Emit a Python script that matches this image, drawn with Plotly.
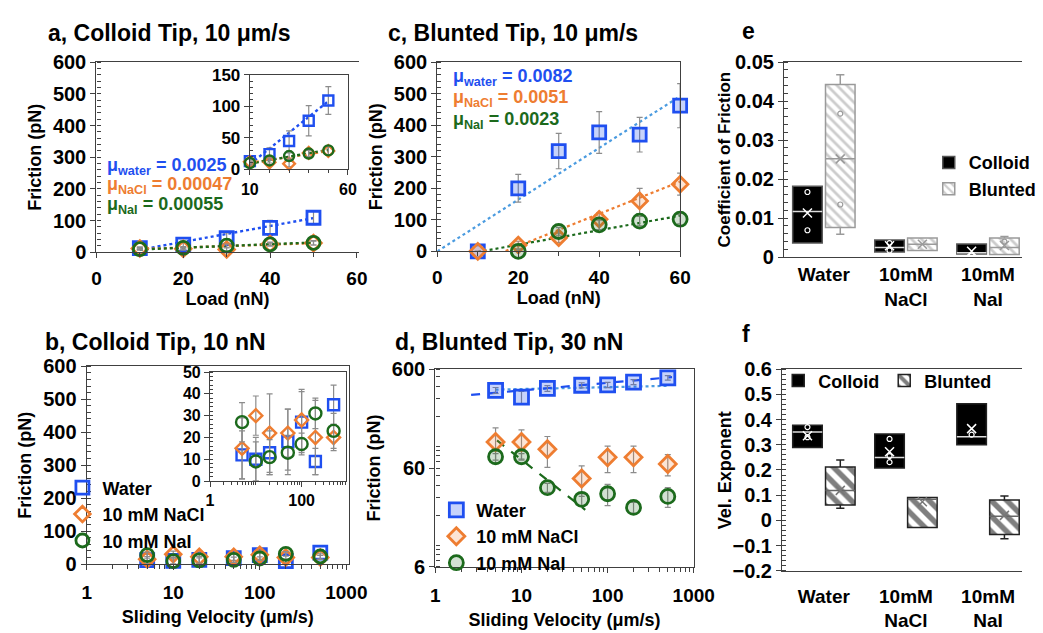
import plotly.graph_objects as go

# ---------------- data ----------------
# Panel a: colloid tip, 10 um/s, friction vs load
a_load = [10, 20, 30, 40, 50]
a_water = [13, 24, 45, 77, 109]
a_water_err = [4, 10, 16, 24, 22]
a_nacl = [12, 11, 9, 26, 29]
a_nacl_err = [3, 4, 5, 6, 6]
a_nai = [10, 14, 21, 25, 30]
a_nai_err = [3, 4, 5, 5, 7]
a_mu = [0.0025, 0.00047, 0.00055]
a_icpt = [-17, 5.5, 3.5]
a_fit_x = [10, 50]

# Panel c: blunted tip, 10 um/s
c_load = [10, 20, 30, 40, 50, 60]
c_water = [0, 200, 318, 377, 370, 462]
c_water_err = [0, 44, 56, 66, 55, 70]
c_nacl = [0, 20, 43, 102, 160, 213]
c_nacl_err = [0, 12, 15, 20, 40, 35]
c_nai = [None, 0, 63, 84, 96, 102]
c_nai_err = [0, 5, 12, 15, 15, 15]
c_mu = [0.0082, 0.0051, 0.0023]
c_icpt = [0, -85, -25]
c_fit_x = [[0, 60], [10, 60], [10, 60]]

# Panel b: colloid tip, 10 nN, friction vs velocity
v = [5, 10, 20, 50, 100, 200, 500]
b_water = [12, 10, 13, 18, 27, 9, 35]
b_water_err = [11, 10, 10, 15, 14, 6, 9]
b_nacl = [15, 30, 22, 22, 28, 20, 20]
b_nacl_err = [14, 9, 18, 11, 14, 17, 6]
b_nai = [27, 9, 11, 13, 17, 31, 23]
b_nai_err = [9, 9, 8, 8, 5, 7, 8]

# Panel d: blunted tip, 30 nN
d_water = [366, 313, 383, 412, 415, 444, 490]
d_water_err = [25, 45, 25, 25, 25, 25, 25]
d_nacl = [110, 110, 93, 47, 77, 77, 66]
d_nacl_err = [43, 36, 32, 16, 23, 23, 16]
d_nai = [78, 78, 38, 29, 33, 24, 31]
d_nai_err = [6, 6, 4, 4, 8, 3, 7]
# power-law fits F = A * v^n  (A, n, v_start, v_end)
d_fit_water_dash = [305.6, 0.0771, 2.6, 560]
d_fit_water_dot = [361, 0.019, 5, 500]
d_fit_nai_dash = [352, -0.684, 5.2, 55]

# Panels e, f: box statistics
cats = ["Water", "10mM<br>NaCl", "10mM<br>NaI"]
e_col = dict(q1=[0.0036, 0.0013, 0.0008], med=[0.0117, 0.0025, 0.0011],
             q3=[0.0182, 0.0044, 0.0034], lo=[0.0036, 0.0013, 0.0008],
             hi=[0.0182, 0.0044, 0.0034], mean=[0.0113, 0.0029, 0.0015],
             pts=[[0.0167, 0.0069], [0.0036, 0.0017], [0.0004]])
e_blu = dict(q1=[0.0076, 0.0017, 0.0007], med=[0.0252, 0.0033, 0.0025],
             q3=[0.0443, 0.0049, 0.0049], lo=[0.0059, 0.0017, 0.0007],
             hi=[0.0468, 0.0049, 0.0053], mean=[0.0252, 0.0033, 0.0030],
             pts=[[0.0368, 0.0135], [], [0.0040]])
f_col = dict(q1=[0.289, 0.208, 0.300], med=[0.351, 0.249, 0.332],
             q3=[0.377, 0.343, 0.463], lo=[0.289, 0.208, 0.300],
             hi=[0.377, 0.343, 0.463], mean=[0.336, 0.272, 0.364],
             pts=[[0.37, 0.33], [0.323, 0.255, 0.231], [0.34]])
f_blu = dict(q1=[0.061, -0.028, -0.056], med=[0.119, 0.084, 0.017],
             q3=[0.212, 0.091, 0.081], lo=[0.048, -0.028, -0.073],
             hi=[0.240, 0.091, 0.097], mean=[0.119, 0.074, 0.020],
             pts=[[], [], []])

# ---------------- style ----------------
W, H = 1043, 633
FONT = "Liberation Sans, Arial, sans-serif"
BLUE = "#1f4ff0"
LBLUE = "#4a9be0"
ORANGE = "#ee7d31"
GREEN = "#1c6a1c"
ERR = "#8c8c8c"
AX = "#404040"
F_BLUE = "rgba(31,79,240,0.25)"
F_ORANGE = "rgba(238,125,49,0.2)"
F_GREEN = "rgba(28,106,28,0.2)"
OFF = 0.2
BOXW = 0.36
CAP = 0.05


def xd(a, b):
    return [a / W, b / W]


def yd(top, bottom):
    return [1 - bottom / H, 1 - top / H]


fig = go.Figure()


def series(x, y, err, xa, ya, color, symbol, fill, size, lw, name,
           legend=None, show=False):
    fig.add_trace(go.Scatter(
        x=x, y=y, mode="markers", name=name, xaxis=xa, yaxis=ya,
        cliponaxis=False, showlegend=show, legend=legend,
        error_y=dict(type="data", array=err, color=ERR, thickness=1.2, width=3),
        marker=dict(symbol=symbol, size=size, color=fill,
                    line=dict(color=color, width=lw))))


def line(x, y, xa, ya, color, dash, width=2.2):
    fig.add_trace(go.Scatter(x=x, y=y, mode="lines", xaxis=xa, yaxis=ya,
                             showlegend=False, hoverinfo="skip",
                             line=dict(color=color, dash=dash, width=width)))


CLEAR = "rgba(0,0,0,0)"
# ---- panel a (main + inset)
for (xa, ya, sz, lw) in [("x", "y", 13, 2.8), ("x2", "y2", 10, 2.4)]:
    cols = [BLUE, ORANGE, GREEN]
    for k, col in enumerate(cols):
        fx = a_fit_x
        line(fx, [a_mu[k] * 1000 * t + a_icpt[k] for t in fx], xa, ya, col, "dot", 2.4)
    series(a_load, a_water, a_water_err, xa, ya, BLUE, "square", CLEAR, sz, lw, "Water")
    series(a_load, a_nacl, a_nacl_err, xa, ya, ORANGE, "diamond", CLEAR, sz - 1, lw, "NaCl")
    series(a_load, a_nai, a_nai_err, xa, ya, GREEN, "circle", CLEAR, sz, lw, "NaI")

# ---- panel c
for k, col in enumerate([LBLUE, ORANGE, GREEN]):
    fx = c_fit_x[k]
    line(fx, [c_mu[k] * 1000 * t + c_icpt[k] for t in fx], "x3", "y3", col, "dot", 2.2)
series(c_load, c_water, c_water_err, "x3", "y3", BLUE, "square", F_BLUE, 13, 2.8, "Water")
series(c_load, c_nacl, c_nacl_err, "x3", "y3", ORANGE, "diamond", F_ORANGE, 12, 2.8, "NaCl")
series(c_load, c_nai, c_nai_err, "x3", "y3", GREEN, "circle", F_GREEN, 14, 2.8, "NaI")

# ---- panel b (main + inset)
series(v, b_water, b_water_err, "x5", "y5", BLUE, "square", CLEAR, 13, 2.8,
       "Water", "legend", True)
series(v, b_nacl, b_nacl_err, "x5", "y5", ORANGE, "diamond", CLEAR, 12, 2.8,
       "10 mM NaCl", "legend", True)
series(v, b_nai, b_nai_err, "x5", "y5", GREEN, "circle", CLEAR, 13, 2.8,
       "10 mM NaI", "legend", True)
series(v, b_water, b_water_err, "x6", "y6", BLUE, "square", CLEAR, 11, 2.4, "Water")
series(v, b_nacl, b_nacl_err, "x6", "y6", ORANGE, "diamond", CLEAR, 10, 2.4, "NaCl")
series(v, b_nai, b_nai_err, "x6", "y6", GREEN, "circle", CLEAR, 12, 2.4, "NaI")

# ---- panel d
for (A, n, v0, v1), col, dash in [(d_fit_water_dot, LBLUE, "dot"),
                                  (d_fit_water_dash, BLUE, "dash"),
                                  (d_fit_nai_dash, GREEN, "dash")]:
    line([v0, v1], [A * v0 ** n, A * v1 ** n], "x7", "y7", col, dash, 2.2)
series(v, d_water, d_water_err, "x7", "y7", BLUE, "square", F_BLUE, 14, 2.8,
       "Water", "legend2", True)
series(v, d_nacl, d_nacl_err, "x7", "y7", ORANGE, "diamond", F_ORANGE, 13, 2.8,
       "10 mM NaCl", "legend2", True)
series(v, d_nai, d_nai_err, "x7", "y7", GREEN, "circle", F_GREEN, 14, 2.8,
       "10 mM NaI", "legend2", True)


# ---- panels e, f boxes
def boxes(st, off, xa, ya, fill, pattern, edge, medc, mkc, whc, name, legend):
    xs = [i + off for i in range(len(st["q1"]))]
    fig.add_trace(go.Bar(
        x=xs, y=[b - a for a, b in zip(st["q1"], st["q3"])], base=st["q1"],
        width=BOXW, xaxis=xa, yaxis=ya, name=name, legend=legend,
        showlegend=True,
        marker=dict(color=fill, pattern=pattern, line=dict(color=edge, width=1.5))))
    wx, wy = [], []
    for x, q1, q3, lo, hi in zip(xs, st["q1"], st["q3"], st["lo"], st["hi"]):
        if hi > q3:
            wx += [x, x, None, x - CAP, x + CAP, None]
            wy += [q3, hi, None, hi, hi, None]
        if lo < q1:
            wx += [x, x, None, x - CAP, x + CAP, None]
            wy += [q1, lo, None, lo, lo, None]
    if wx:
        fig.add_trace(go.Scatter(x=wx, y=wy, mode="lines", xaxis=xa, yaxis=ya,
                                 showlegend=False, line=dict(color=whc, width=1.5)))
    mx, my = [], []
    for x, m in zip(xs, st["med"]):
        mx += [x - BOXW / 2, x + BOXW / 2, None]
        my += [m, m, None]
    fig.add_trace(go.Scatter(x=mx, y=my, mode="lines", xaxis=xa, yaxis=ya,
                             showlegend=False, line=dict(color=medc, width=1.5)))
    fig.add_trace(go.Scatter(x=xs, y=st["mean"], mode="markers", xaxis=xa, yaxis=ya,
                             showlegend=False,
                             marker=dict(symbol="x-thin", size=9, color=mkc,
                                         line=dict(color=mkc, width=1.5))))
    px, py = [], []
    for x, pts in zip(xs, st["pts"]):
        px += [x] * len(pts)
        py += pts
    fig.add_trace(go.Scatter(x=px, y=py, mode="markers", xaxis=xa, yaxis=ya,
                             showlegend=False,
                             marker=dict(symbol="circle-open", size=5, color=mkc,
                                         line=dict(color=mkc, width=1.2))))


boxes(e_col, -OFF, "x4", "y4", "black", None, "#555555", "#dddddd", "white",
      "#888888", "Colloid", "legend3")
boxes(e_blu, OFF, "x4", "y4", "white",
      dict(shape="\\", fgcolor="#9a9a9a", bgcolor="white", size=7, solidity=0.4),
      "#9a9a9a", "#9a9a9a", "#9a9a9a", "#9a9a9a", "Blunted", "legend3")
boxes(f_col, -OFF, "x8", "y8", "black", None, "#222222", "#dddddd", "white",
      "#222222", "Colloid", "legend4")
boxes(f_blu, OFF, "x8", "y8", "white",
      dict(shape="\\", fgcolor="black", bgcolor="white", size=11, solidity=0.5),
      "#222222", "#666666", "#777777", "#222222", "Blunted", "legend4")

# ---------------- axes ----------------
XTF = dict(size=19)
YTF = dict(size=20)


def ax(domain, rng, anchor, mirror=False, **kw):
    d = dict(domain=domain, range=rng, anchor=anchor, showgrid=False,
             zeroline=False, showline=True, linecolor=AX, linewidth=1.3,
             ticks="outside", ticklen=5, tickcolor=AX, mirror=mirror,
             tickfont=XTF)
    d.update(kw)
    return d


def minor_in(dt, ln=4):
    return dict(ticks="inside", ticklen=ln, dtick=dt, tickcolor=AX, showgrid=False)


def minor_out(dt, ln=4):
    return dict(ticks="outside", ticklen=ln, dtick=dt, tickcolor=AX, showgrid=False)


ytitle_f = dict(text="Friction (pN)", font=dict(size=18), standoff=6)
xt_load = dict(text="Load (nN)", font=dict(size=18), standoff=2)
xt_vel = dict(text="Sliding Velocity (μm/s)", font=dict(size=18), standoff=8)
layout_axes = dict(
    # a
    xaxis=ax(xd(90, 360), [0, 60.4], "y", mirror=True, dtick=20,
             minor=minor_out(10), ticklabelstandoff=4, title=xt_load),
    yaxis=ax(yd(53, 250), [0, 600], "x", dtick=100, minor=minor_in(20),
             title=ytitle_f, tickfont=YTF),
    xaxis2=ax(xd(248, 349), [10, 60], "y2", mirror=True, tick0=10, dtick=50,
              minor=minor_out(10, 3), tickfont=dict(size=16)),
    yaxis2=ax(yd(66, 164), [0, 150], "x2", mirror=True, dtick=50,
              minor=minor_in(10, 3), tickfont=dict(size=17)),
    # c
    xaxis3=ax(xd(441, 691), [0, 60], "y3", mirror=True, dtick=20,
              minor=minor_out(10), ticklabelstandoff=4, title=xt_load),
    yaxis3=ax(yd(53, 249), [0, 600], "x3", mirror=True, dtick=100,
              minor=minor_in(20), title=ytitle_f, tickfont=YTF),
    # e
    xaxis4=ax(xd(798, 1043), [-0.485, 2.414], "y4", mirror=True, ticks="",
              tickvals=[0, 1, 2], ticktext=cats, ticklabelstandoff=0),
    yaxis4=ax(yd(53, 255), [0, 0.05], "x4", dtick=0.01, tickformat="~g",
              minor=minor_in(0.002), tickfont=YTF),
    # b
    xaxis5=ax(xd(80, 350), [0, 3.03], "y5", mirror=True, type="log",
              tickvals=[1, 10, 100, 1000], ticktext=["1", "10", "100", "1000"],
              minor=minor_out("D1"), ticklabelstandoff=6, title=xt_vel),
    yaxis5=ax(yd(368, 573), [0, 600], "x5", mirror=True, dtick=100,
              minor=minor_in(20), title=ytitle_f, tickfont=YTF),
    xaxis6=ax(xd(207, 347), [0, 2.97], "y6", mirror=True, type="log",
              tickvals=[1, 100], ticktext=["1", "100"], minor=minor_out("D1", 3),
              tickfont=dict(size=16)),
    yaxis6=ax(yd(374, 487), [0, 50], "x6", mirror=True, dtick=10,
              minor=minor_in(2, 3), tickfont=dict(size=16)),
    # d
    xaxis7=ax(xd(439, 705), [0, 3], "y7", mirror=True, type="log",
              tickvals=[1, 10, 100, 1000], ticktext=["1", "10", "100", "1000"],
              minor=minor_out("D1"), ticklabelstandoff=6, title=xt_vel),
    yaxis7=ax(yd(371, 576), [0.77815, 2.77815], "x7", mirror=True, type="log",
              tickvals=[6, 60, 600], ticktext=["6", "60", "600"],
              minor=minor_in("D1"), title=ytitle_f, tickfont=YTF),
    # f
    xaxis8=ax(xd(796, 1043), [-0.509, 2.414], "y8", mirror=True, ticks="",
              tickvals=[0, 1, 2], ticktext=cats, ticklabelstandoff=8),
    yaxis8=ax(yd(371, 580), [-0.2, 0.6], "x8", dtick=0.1, tickformat="~g",
              minor=minor_in(0.02), tickfont=YTF),
)

# ---------------- annotations ----------------
ann = []


def txt(text, x, y, size=23, color="black", xanchor="left", angle=0):
    ann.append(dict(text=text, x=x / W, y=1 - y / H, xref="paper", yref="paper",
                    xanchor=xanchor, yanchor="middle", showarrow=False,
                    textangle=angle, font=dict(size=size, color=color)))


txt("a, Colloid Tip, 10 μm/s", 38, 23)
txt("c, Blunted Tip, 10 μm/s", 388, 23)
txt("e", 753, 21)
txt("b, Colloid Tip, 10 nN", 35, 343)
txt("d, Blunted Tip, 30 nN", 395, 343)
txt("f", 753, 335)
txt("Coefficient of Friction", 737, 154, 17, xanchor="center", angle=-90)
txt("Vel. Exponent", 738, 476, 18, xanchor="center", angle=-90)
names = ["water", "NaCl", "NaI"]
for k, col in enumerate([BLUE, ORANGE, GREEN]):
    txt(f"μ<sub>{names[k]}</sub> = {a_mu[k]:g}", 99, 161 + 20 * k, 18, col)
    txt(f"μ<sub>{names[k]}</sub> = {c_mu[k]:g}", 455, 69 + 22 * k, 18, col)

LEG = dict(bgcolor="rgba(0,0,0,0)", font=dict(size=18), xanchor="left",
           yanchor="top", itemsizing="trace")
fig.update_layout(
    width=W, height=H, margin=dict(l=0, r=0, t=0, b=0),
    paper_bgcolor="white", plot_bgcolor="white",
    font=dict(family=FONT, size=18, color="black", weight="bold"),
    barmode="overlay", showlegend=True, annotations=ann,
    legend=dict(LEG, x=55 / W, y=1 - 475 / H),
    legend2=dict(LEG, x=440 / W, y=1 - 498 / H),
    legend3=dict(LEG, x=947 / W, y=1 - 138 / H),
    legend4=dict(LEG, x=792 / W, y=1 - 364 / H, orientation="h"),
    **layout_axes)

fig.write_html("out.html")
